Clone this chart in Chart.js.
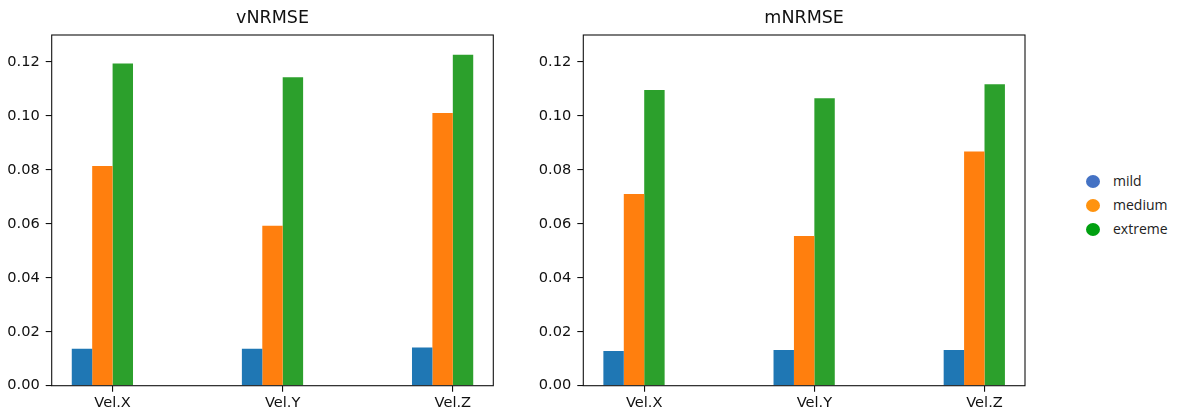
<!DOCTYPE html>
<html>
<head>
<meta charset="utf-8">
<script src="https://cdn.jsdelivr.net/npm/chart.js@4/dist/chart.umd.min.js"></script>
<style>
  html, body { margin: 0; padding: 0; background: #fff; }
  body { width: 1177px; height: 412px; position: relative; overflow: hidden; }
  canvas { position: absolute; top: 0; }
  #chartV { left: 0; }
  #chartM { left: 530px; }
  #legend { position: absolute; left: 1086px; top: 171px; font-family: "Open Sans", sans-serif; font-size: 14px; color: #222; }
  #legend div { height: 24px; line-height: 20px; white-space: nowrap; }
  #legend span.dot { display: inline-block; width: 14px; height: 13px; border-radius: 50%; vertical-align: -2px; margin-right: 13px; }
</style>
</head>
<body>
<canvas id="chartV" width="530" height="412"></canvas>
<canvas id="chartM" width="540" height="412"></canvas>
<div id="legend"></div>
<script>
// categories and series
const categories = ['Vel.X', 'Vel.Y', 'Vel.Z'];
const seriesNames = ['mild', 'medium', 'extreme'];

// vNRMSE values
const vMild = [0.0137, 0.0137, 0.0142];
const vMedium = [0.0814, 0.0593, 0.1011];
const vExtreme = [0.1194, 0.1143, 0.1227];

// mNRMSE values
const mMild = [0.0129, 0.0132, 0.0132];
const mMedium = [0.0711, 0.0555, 0.0868];
const mExtreme = [0.1096, 0.1066, 0.1117];

const yTicks = [0, 0.02, 0.04, 0.06, 0.08, 0.10, 0.12];

const barColors = ['#1f77b4', '#ff7f0e', '#2ca02c'];
const legendColors = ['#4472c4', '#ff930f', '#00a010'];

const tickFont = { family: 'DejaVu Sans', size: 14.6 };
const textColor = '#111';

// matplotlib style box around the axes
const boxPlugin = {
    id: 'axesBox',
    afterDraw(chart) {
        const a = chart.chartArea;
        const ctx = chart.ctx;
        ctx.save();
        ctx.strokeStyle = '#111';
        ctx.lineWidth = 1.1;
        ctx.strokeRect(a.left, a.top, a.right - a.left, a.bottom - a.top);
        ctx.restore();
    }
};

function toPoints(values) {
    return values.map((v, i) => ({ x: i, y: v }));
}

function makeChart(id, title, series, yWidth, padRight) {
    const datasets = series.map((vals, k) => ({
        label: seriesNames[k],
        data: toPoints(vals),
        backgroundColor: barColors[k],
        borderWidth: 0
    }));
    // empty slot so the group sits like the original (tick between orange and green)
    datasets.push({ label: '', data: categories.map((c, i) => ({ x: i, y: null })) });

    return new Chart(document.getElementById(id), {
        type: 'bar',
        data: { datasets },
        plugins: [boxPlugin],
        options: {
            responsive: false,
            animation: false,
            categoryPercentage: 0.48,
            barPercentage: 1,
            layout: { padding: { left: 0, right: padRight, top: 0, bottom: 0 } },
            plugins: {
                legend: { display: false },
                tooltip: { enabled: false },
                title: {
                    display: true,
                    text: title,
                    fullSize: false,
                    color: textColor,
                    font: { family: 'DejaVu Sans', size: 17.5, weight: 'normal', lineHeight: 1.2 },
                    padding: { top: 8.4, bottom: 5.6 }
                }
            },
            scales: {
                x: {
                    type: 'linear',
                    offset: false,
                    min: -0.358,
                    max: 2.238,
                    afterBuildTicks: s => { s.ticks = categories.map((c, i) => ({ value: i })); },
                    afterFit: s => { s.height = 26.3; },
                    grid: { offset: false, drawOnChartArea: false, drawTicks: true, tickLength: 6, color: '#111', lineWidth: 1.1 },
                    border: { display: false },
                    ticks: {
                        color: textColor,
                        font: tickFont,
                        padding: 3,
                        maxRotation: 0,
                        callback: v => categories[v]
                    }
                },
                y: {
                    min: 0,
                    max: 0.13,
                    afterBuildTicks: s => { s.ticks = yTicks.map(v => ({ value: v })); },
                    afterFit: s => { s.width = yWidth; },
                    grid: { drawOnChartArea: false, drawTicks: true, tickLength: 6, color: '#111', lineWidth: 1.1 },
                    border: { display: false },
                    ticks: {
                        color: textColor,
                        font: tickFont,
                        padding: 6,
                        callback: v => v.toFixed(2)
                    }
                }
            }
        }
    });
}

makeChart('chartV', 'vNRMSE', [vMild, vMedium, vExtreme], 51.7, 530 - 493.3);
makeChart('chartM', 'mNRMSE', [mMild, mMedium, mExtreme], 583.3 - 530, 1070 - 1025);

// legend
const legend = document.getElementById('legend');
seriesNames.forEach((name, k) => {
    const row = document.createElement('div');
    row.innerHTML = `<span class="dot" style="background:${legendColors[k]}"></span>${name}`;
    legend.appendChild(row);
});
</script>
</body>
</html>
